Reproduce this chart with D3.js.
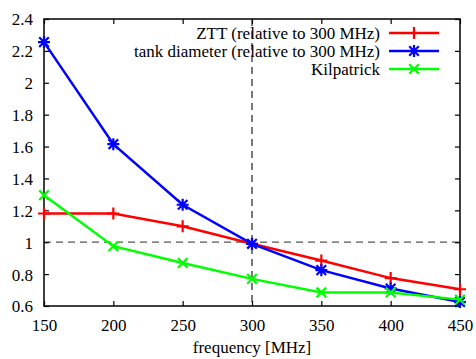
<!DOCTYPE html>
<html>
<head>
<meta charset="utf-8">
<script src="https://cdn.jsdelivr.net/npm/d3@7/dist/d3.min.js"></script>
</head>
<body style="margin:0; background:#fff">
<script>
var width = 476
var height = 359

// data
const freqs = [150, 200, 250, 300, 350, 400, 450]
const ztt = [1.18, 1.18, 1.10, 0.99, 0.885, 0.775, 0.705]
const tank = [2.255, 1.615, 1.235, 0.99, 0.825, 0.71, 0.625]
const kilpatrick = [1.295, 0.975, 0.87, 0.77, 0.685, 0.685, 0.64]
const xTicks = [150, 200, 250, 300, 350, 400, 450]
const yTicks = [0.6, 0.8, 1, 1.2, 1.4, 1.6, 1.8, 2, 2.2, 2.4]

const series = [
  {name: "ZTT (relative to 300 MHz)", values: ztt, color: "#ff0000", marker: "plus"},
  {name: "tank diameter (relative to 300 MHz)", values: tank, color: "#0000ff", marker: "star"},
  {name: "Kilpatrick", values: kilpatrick, color: "#00ff00", marker: "cross"}
]

const font = "'Liberation Serif', 'Times New Roman', serif"
const fontSize = "17px"

const margin = {top: 19, right: 16, bottom: 53, left: 44}
const innerWidth = width - margin.left - margin.right
const innerHeight = height - margin.top - margin.bottom

var svg = d3.select("body").append("svg")
  .attr("width", width)
  .attr("height", height)

const g = svg.append("g")
  .attr("transform", `translate(${margin.left}, ${margin.top})`)

const xScale = d3.scaleLinear().domain([150, 450]).range([0, innerWidth])
const yScale = d3.scaleLinear().domain([0.6, 2.4]).range([innerHeight, 0])

const serifText = sel => sel
  .attr("font-family", "Liberation Serif").attr("font-size", 17)
  .style("font-family", font, "important").style("font-size", fontSize, "important")

// reference lines
g.append("line")
  .attr("x1", 0).attr("x2", innerWidth)
  .attr("y1", yScale(1)).attr("y2", yScale(1))
  .attr("stroke", "#555").attr("stroke-width", 1.2)
  .attr("stroke-dasharray", "7,5")
g.append("line")
  .attr("x1", xScale(300)).attr("x2", xScale(300))
  .attr("y1", 0).attr("y2", innerHeight)
  .attr("stroke", "#222").attr("stroke-width", 1.2)
  .attr("stroke-dasharray", "7,5")

// axes with inward ticks on all sides
const tickLen = 5
const xAxisB = g.append("g").attr("transform", `translate(0, ${innerHeight})`)
  .call(d3.axisBottom(xScale).tickValues(xTicks).tickSize(-tickLen).tickPadding(13).tickFormat(d3.format("d")))
const xAxisT = g.append("g")
  .call(d3.axisTop(xScale).tickValues(xTicks).tickSize(-tickLen).tickFormat(""))
const yAxisL = g.append("g")
  .call(d3.axisLeft(yScale).tickValues(yTicks).tickSize(-tickLen).tickPadding(11).tickFormat(d => d3.format("")(+d.toFixed(1))))
const yAxisR = g.append("g").attr("transform", `translate(${innerWidth}, 0)`)
  .call(d3.axisRight(yScale).tickValues(yTicks).tickSize(-tickLen).tickFormat(""))

;[xAxisB, xAxisT, yAxisL, yAxisR].forEach(a => {
  serifText(a)
  a.select(".domain").remove()
  a.selectAll("line").attr("stroke", "#000").attr("stroke-width", 1.2)
  serifText(a.selectAll("text").attr("fill", "#000"))
})
yAxisL.selectAll("text").attr("dy", "0.35em")

g.append("rect")
  .attr("width", innerWidth).attr("height", innerHeight)
  .attr("fill", "none").attr("stroke", "#000").attr("stroke-width", 1.5)

svg.append("text")
  .attr("x", margin.left + innerWidth / 2)
  .attr("y", 353)
  .attr("text-anchor", "middle")
  .call(serifText)
  .text("frequency [MHz]")

// markers
const ms = 6
function drawMarker(sel, type, color) {
  let p = ""
  if (type === "plus" || type === "star") p += `M${-ms},0H${ms}M0,${-ms}V${ms}`
  if (type === "cross" || type === "star") p += `M${-ms*0.8},${-ms*0.8}L${ms*0.8},${ms*0.8}M${-ms*0.8},${ms*0.8}L${ms*0.8},${-ms*0.8}`
  sel.append("path").attr("d", p).attr("stroke", color).attr("stroke-width", 2.2).attr("fill", "none")
}

const line = d3.line().x((d, i) => xScale(freqs[i])).y(d => yScale(d))

series.forEach(s => {
  g.append("path")
    .datum(s.values)
    .attr("d", line)
    .attr("fill", "none")
    .attr("stroke", s.color)
    .attr("stroke-width", 2.5)
  g.selectAll(null).data(s.values).enter().append("g")
    .attr("transform", (d, i) => `translate(${xScale(freqs[i])}, ${yScale(d)})`)
    .each(function () { drawMarker(d3.select(this), s.marker, s.color) })
})

// legend
const legend = svg.append("g")
series.forEach((s, i) => {
  const y = 33 + i * 18
  legend.append("text")
    .attr("x", 380).attr("y", y).attr("dy", "0.35em")
    .attr("text-anchor", "end")
    .call(serifText)
    .text(s.name)
  legend.append("line")
    .attr("x1", 389).attr("x2", 439).attr("y1", y).attr("y2", y)
    .attr("stroke", s.color).attr("stroke-width", 2.5)
  const m = legend.append("g").attr("transform", `translate(414, ${y})`)
  drawMarker(m, s.marker, s.color)
})
</script>
</body>
</html>
